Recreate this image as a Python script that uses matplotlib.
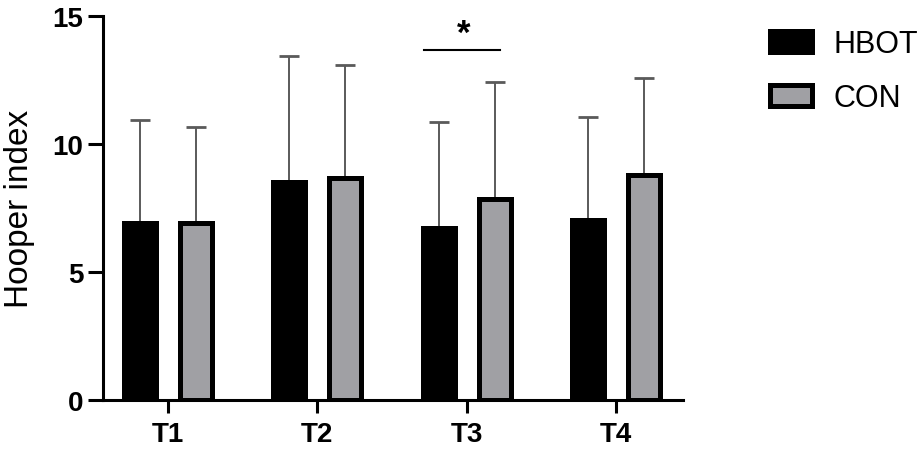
import numpy as np
import matplotlib.pyplot as plt

plt.rcParams['font.family'] = ['Liberation Sans', 'DejaVu Sans']

# DATA
timepoints = ["T1", "T2", "T3", "T4"]
hbot_mean = [6.9, 8.53, 6.7, 7.04]
hbot_sd = [4.05, 4.92, 4.16, 4.02]
con_mean = [6.9, 8.69, 7.87, 8.77]
con_sd = [3.76, 4.41, 4.55, 3.8]
sig_level = 13.67

x = np.arange(len(timepoints))
w = 0.214
off = 0.187

fig = plt.figure(figsize=(9.22, 4.52), dpi=100)
ax = fig.add_axes([103/922, 1-401/452, (683-103)/922, 384/452])

# error bars (upper only), drawn under the bars
ax.errorbar(x - off, hbot_mean, yerr=[np.zeros(4), hbot_sd], fmt='none',
            ecolor='#5a5a5a', elinewidth=1.4, capsize=7, capthick=2, zorder=1)
ax.errorbar(x + off, con_mean, yerr=[np.zeros(4), con_sd], fmt='none',
            ecolor='#5a5a5a', elinewidth=1.4, capsize=7, capthick=2, zorder=1)

ax.bar(x - off, hbot_mean, w, color='black', edgecolor='black',
       linewidth=3.6, label='HBOT', zorder=2)
ax.bar(x + off, con_mean, w, color='#a0a0a4', edgecolor='black',
       linewidth=3.6, label='CON', zorder=2)

# significance
ax.plot([2 - 0.285, 2 + 0.22], [sig_level, sig_level], color='black', lw=1.5)
ax.text(1.98, sig_level + 0.02, '*', ha='center', va='bottom',
        fontsize=25, fontweight='bold')

ax.set_xlim(-0.435, 3.448)
ax.set_ylim(0, 15)
ax.set_yticks([0, 5, 10, 15])
ax.set_xticks(x)
ax.set_xticklabels(timepoints)
ax.set_ylabel("Hooper index", fontsize=24)
ax.yaxis.set_label_coords(-0.117, 0.5)

for s in ['top', 'right']:
    ax.spines[s].set_visible(False)
for s in ['left', 'bottom']:
    ax.spines[s].set_linewidth(2.2)
ax.tick_params(axis='both', width=2.2, labelsize=20)
ax.tick_params(axis='y', length=11, pad=3)
ax.tick_params(axis='x', length=9, pad=6)
for lab in ax.get_xticklabels() + ax.get_yticklabels():
    lab.set_fontweight('bold')

fig.legend(loc='upper left', bbox_to_anchor=(770/922, 1-30/452), frameon=False,
           fontsize=22, handlelength=1.37, handleheight=0.69,
           labelspacing=0.78, handletextpad=0.7, borderpad=0, borderaxespad=0)

plt.savefig("out.png", dpi=100)
